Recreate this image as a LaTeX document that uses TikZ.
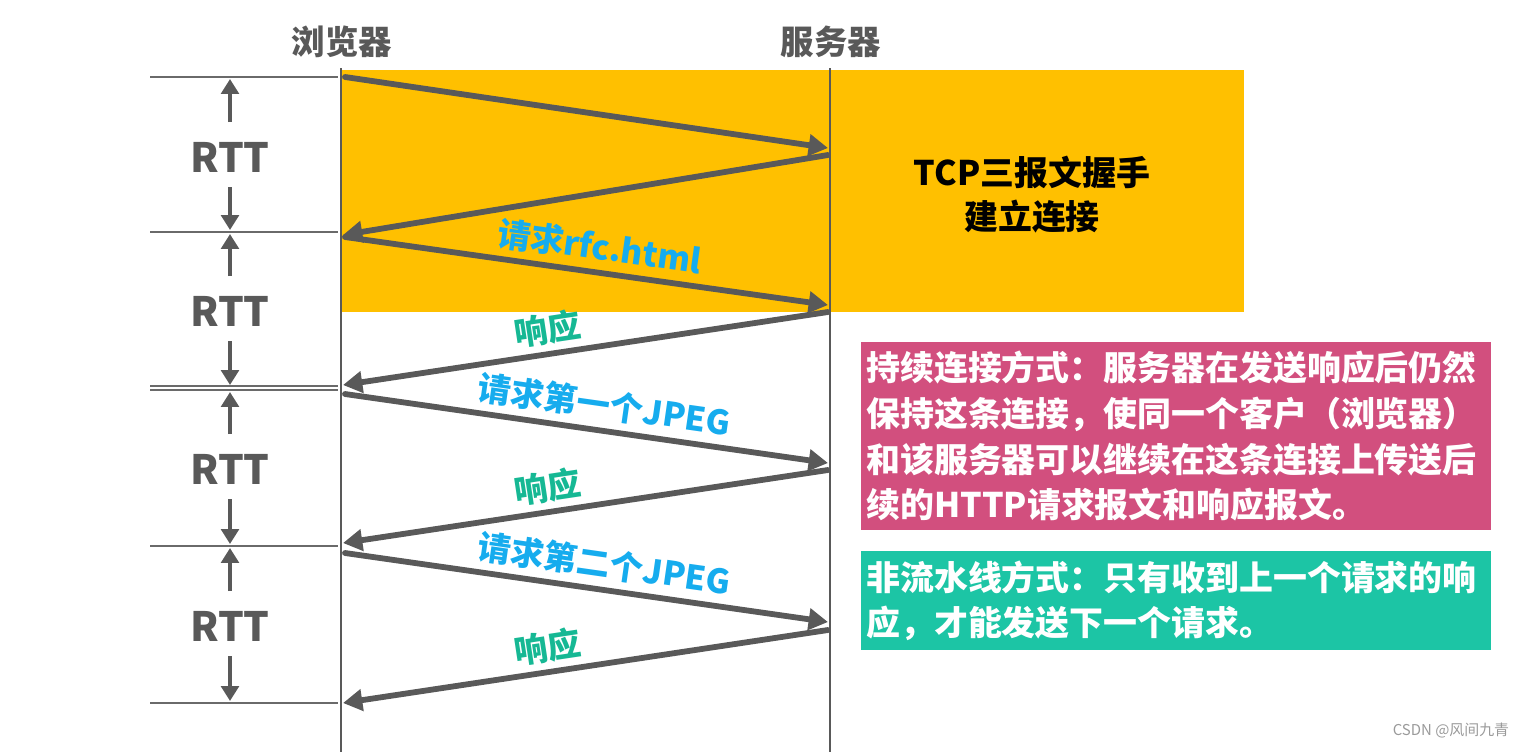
\documentclass[tikz,border=0pt]{standalone}
\usepackage{fontspec}
\setmainfont{Noto Sans CJK SC}
\usetikzlibrary{arrows.meta}
\definecolor{darkg}{HTML}{595959}
\definecolor{lineg}{HTML}{6A6A6A}
\definecolor{tcporange}{HTML}{FFC000}
\definecolor{pinkbox}{HTML}{D24F7E}
\definecolor{tealbox}{HTML}{1CC5A5}
\definecolor{reqblue}{HTML}{16ACEE}
\definecolor{resgreen}{HTML}{16B894}
\definecolor{wmgray}{HTML}{9A9A9A}
\tikzset{
  header/.style={font=\bfseries\fontsize{19}{22}\selectfont, text=darkg, inner sep=0pt},
  rtt/.style={font=\bfseries\fontsize{23}{26}\selectfont, text=darkg, inner sep=0pt},
  lifeline/.style={draw=darkg, line width=1.1pt},
  boundary/.style={draw=lineg, line width=1.2pt},
  msg/.style={draw=darkg, line width=3.3pt, line cap=round, -{Triangle[length=11pt,width=12pt]}},
  rttarrow/.style={draw=darkg, line width=2.8pt, -{Triangle[length=8.5pt,width=10pt]}},
  reqlabel/.style={font=\bfseries\fontsize{19}{21}\selectfont, text=reqblue, sloped, above=3pt, inner sep=1pt},
  reslabel/.style={font=\bfseries\fontsize{19}{21}\selectfont, text=resgreen, sloped, above=2.5pt, inner sep=1pt},
  infobox/.style={anchor=north west, text=white, font=\bfseries\fontsize{19.3}{26}\selectfont,
    align=left, text width=12.4cm, inner xsep=0.1cm, inner ysep=0pt, minimum width=12.6cm},
}
\begin{document}
\begin{tikzpicture}[x=0.02cm, y=-0.02cm]
\useasboundingbox (0,0) rectangle (1536,752);
% orange handshake area
\fill[tcporange] (341,70) rectangle (1244,312);
\node[font=\bfseries\fontsize{19.3}{25}\selectfont, align=center, text=black] (tcp) at (1032,195) {TCP三报文握手\\建立连接};

% headers
\node[header] (browser) at (342,42) {浏览器};
\node[header] (server) at (831,42) {服务器};

% lifelines
\coordinate (bt) at (341,68); \coordinate (bb) at (341,752);
\coordinate (st) at (830,68); \coordinate (sb) at (830,752);
\draw[lifeline] (bt) -- (bb);
\draw[lifeline] (st) -- (sb);

% boundary lines
\coordinate (l0a) at (150,77);  \coordinate (l0b) at (338,77);
\coordinate (l1a) at (150,232); \coordinate (l1b) at (338,232);
\coordinate (l2a) at (150,386); \coordinate (l2b) at (338,386);
\coordinate (l2c) at (150,390); \coordinate (l2d) at (338,390);
\coordinate (l3a) at (150,546); \coordinate (l3b) at (338,546);
\coordinate (l4a) at (150,703); \coordinate (l4b) at (338,703);
\draw[boundary] (l0a) -- (l0b);
\draw[boundary] (l1a) -- (l1b);
\draw[boundary] (l2a) -- (l2b);
\draw[boundary] (l2c) -- (l2d);
\draw[boundary] (l3a) -- (l3b);
\draw[boundary] (l4a) -- (l4b);

% RTT labels and arrows
\foreach \i/\top/\mid/\bot in {1/79/157/230, 2/234/311/385, 3/392/469/544, 4/548/626/701} {
  \node[rtt] (rtt\i) at (230,\mid) {RTT};
  \coordinate (ua\i) at (230,\mid-35);
  \coordinate (ub\i) at (230,\top);
  \coordinate (da\i) at (230,\mid+30);
  \coordinate (db\i) at (230,\bot);
  \draw[rttarrow] (ua\i) -- (ub\i);
  \draw[rttarrow] (da\i) -- (db\i);
}

% message endpoints
\coordinate (b1) at (345,77);  \coordinate (s1) at (828,148);
\coordinate (s2) at (828,155); \coordinate (b2) at (343,235);
\coordinate (b3) at (345,237); \coordinate (s3) at (828,305);
\coordinate (s4) at (828,312); \coordinate (b4) at (343,385);
\coordinate (b5) at (345,394); \coordinate (s5) at (828,463);
\coordinate (s6) at (828,470); \coordinate (b6) at (343,543);
\coordinate (b7) at (345,553); \coordinate (s7) at (828,622);
\coordinate (s8) at (828,630); \coordinate (b8) at (343,703);

\draw[msg] (b1) -- (s1);
\draw[msg] (s2) -- (b2);
\draw[msg] (b3) -- node[reqlabel, pos=0.52] (lab3) {请求rfc.html} (s3);
\draw[msg] (s4) -- node[reslabel, pos=0.57] (lab4) {响应} (b4);
\draw[msg] (b5) -- node[reqlabel, pos=0.53] (lab5) {请求第一个JPEG} (s5);
\draw[msg] (s6) -- node[reslabel, pos=0.57] (lab6) {响应} (b6);
\draw[msg] (b7) -- node[reqlabel, pos=0.53] (lab7) {请求第二个JPEG} (s7);
\draw[msg] (s8) -- node[reslabel, pos=0.57] (lab8) {响应} (b8);

% info boxes
\node[infobox, fill=pinkbox, minimum height=3.76cm] (persist) at (861,342)
  {持续连接方式：服务器在发送响应后仍然\\保持这条连接，使同一个客户（浏览器）\\和该服务器可以继续在这条连接上传送后\\续的HTTP请求报文和响应报文。};
\node[infobox, fill=tealbox, minimum height=1.98cm] (nonpipe) at (861,551)
  {非流水线方式：只有收到上一个请求的响\\应，才能发送下一个请求。};

% watermark
\node[text=wmgray, font=\fontsize{8.5}{10}\selectfont, inner sep=0pt] (wm) at (1451,731) {CSDN @风间九青};
\end{tikzpicture}
\end{document}
